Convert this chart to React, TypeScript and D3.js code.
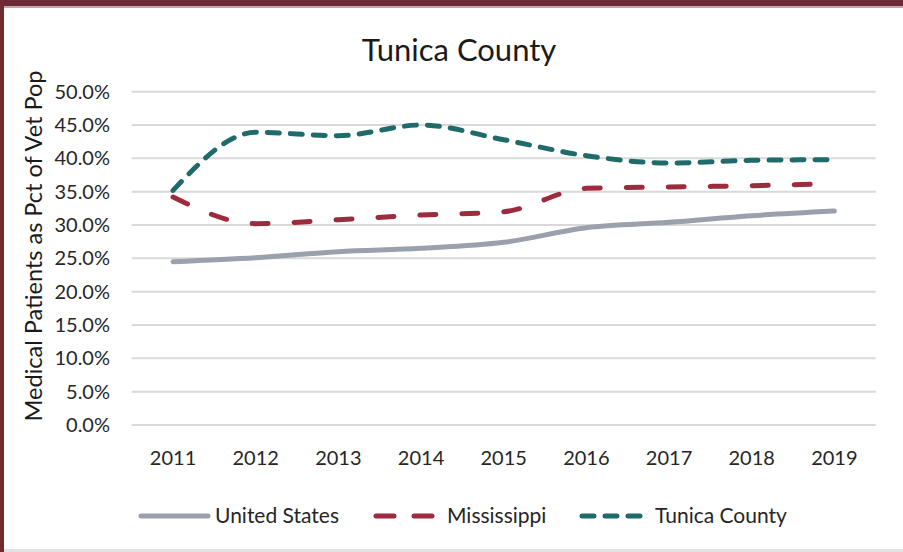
import React from "react";
import * as d3 from "d3";

const years = ["2011", "2012", "2013", "2014", "2015", "2016", "2017", "2018", "2019"];
const unitedStates = [0.245, 0.251, 0.26, 0.265, 0.274, 0.296, 0.304, 0.314, 0.321];
const mississippi = [0.342, 0.302, 0.308, 0.315, 0.32, 0.355, 0.357, 0.359, 0.362];
const tunica = [0.352, 0.439, 0.434, 0.45, 0.428, 0.404, 0.393, 0.397, 0.398];
const yTicks = [0, 0.05, 0.1, 0.15, 0.2, 0.25, 0.3, 0.35, 0.4, 0.45, 0.5];

const series = [
  { name: "United States", values: unitedStates, color: "#9aa1ac", dash: "" },
  { name: "Mississippi", values: mississippi, color: "#9e2b3d", dash: "16 26" },
  { name: "Tunica County", values: tunica, color: "#1f6a6a", dash: "12 11" },
];

const W = 903;
const H = 552;
const FONT = "Lato, 'Open Sans', sans-serif";

export default function App() {
  const x = d3.scalePoint<string>().domain(years).range([131.7, 875.7]).padding(0.5);
  const y = d3.scaleLinear().domain([0, 0.5]).range([425, 91.7]);
  const line = d3
    .line<number>()
    .x((_, i) => x(years[i]) as number)
    .y((d) => y(d))
    .curve(d3.curveMonotoneX);
  const fmt = d3.format(".1%");

  const legendItems = [
    { s: series[0], x0: 141, x1: 208, tx: 215 },
    { s: series[1], x0: 376, x1: 440, tx: 447 },
    { s: series[2], x0: 582, x1: 648, tx: 655 },
  ];
  const legendDash = ["", "18 20", "12 11"];

  return (
    <svg
      width={W}
      height={H}
      style={{ position: "absolute", left: 0, top: 0, background: "#fff" }}
      fontFamily={FONT}
    >
      <rect x={0} y={0} width={W} height={H} fill="#ffffff" />
      <rect x={0} y={0} width={W} height={6} fill="#6c2a37" />
      <rect x={0} y={6} width={W} height={2} fill="#c9a3a8" />
      <rect x={0} y={0} width={4} height={H} fill="#722a2e" />
      <rect x={4} y={549} width={W - 4} height={3} fill="#e2e2e2" />

      <text x={459} y={61} textAnchor="middle" fontSize={31} fill="#1a1a1a">
        Tunica County
      </text>

      {yTicks.map((t) => (
        <g key={t}>
          <line x1={131.7} x2={875.7} y1={y(t)} y2={y(t)} stroke="#d9d9d9" strokeWidth={2} />
          <text x={110} y={y(t) + 7} textAnchor="end" fontSize={20} fill="#262626">
            {fmt(t)}
          </text>
        </g>
      ))}

      {years.map((yr) => (
        <text key={yr} x={x(yr)} y={465} textAnchor="middle" fontSize={20} fill="#262626">
          {yr}
        </text>
      ))}

      <text
        transform="translate(42,246) rotate(-90)"
        textAnchor="middle"
        fontSize={23.5}
        fill="#1a1a1a"
      >
        Medical Patients as Pct of Vet Pop
      </text>

      {series.map((s) => (
        <path
          key={s.name}
          d={line(s.values) || ""}
          fill="none"
          stroke={s.color}
          strokeWidth={5}
          strokeLinecap="round"
          strokeLinejoin="round"
          strokeDasharray={s.dash || undefined}
        />
      ))}

      {legendItems.map((it, i) => (
        <g key={it.s.name}>
          <line
            x1={it.x0}
            x2={it.x1}
            y1={516}
            y2={516}
            stroke={it.s.color}
            strokeWidth={5}
            strokeLinecap="round"
            strokeDasharray={legendDash[i] || undefined}
          />
          <text x={it.tx} y={523} fontSize={21} fill="#262626">
            {it.s.name}
          </text>
        </g>
      ))}
    </svg>
  );
}
